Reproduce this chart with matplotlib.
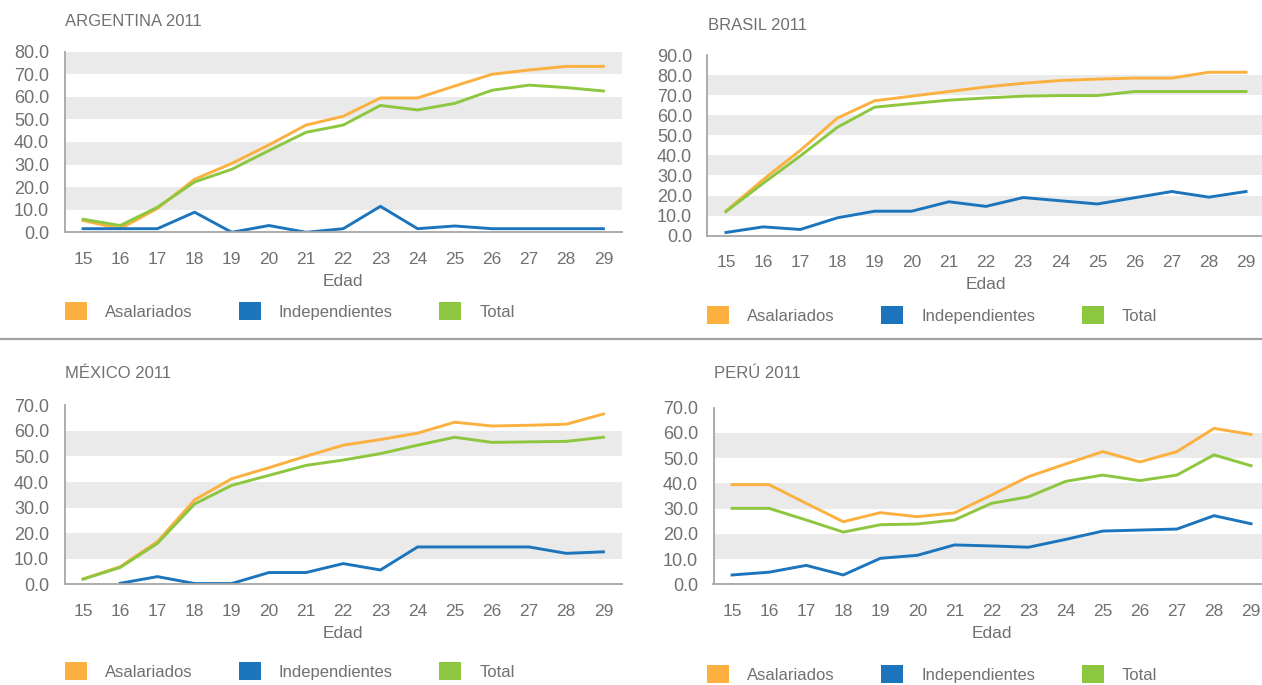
import matplotlib
matplotlib.use('Agg')
import matplotlib.pyplot as plt
import numpy as np
from matplotlib.lines import Line2D
from matplotlib.patches import Patch

plt.rcParams['font.family'] = ['Liberation Sans', 'DejaVu Sans']

edades = list(range(15, 30))
series = ['Asalariados', 'Independientes', 'Total']
colores = ['#FBB040', '#1C75BC', '#8DC63F']

# porcentajes por edad (15 a 29 años)
arg_asal = [5.2, 1.6, 10.6, 23.5, 30.5, 38.7, 47.5, 51.4, 59.5, 59.5, 64.8, 70.0, 71.9, 73.5, 73.5]
arg_indep = [1.6, 1.6, 1.6, 8.9, 0.0, 3.0, 0.0, 1.6, 11.5, 1.6, 2.8, 1.6, 1.6, 1.6, 1.6]
arg_total = [5.8, 3.0, 11.1, 22.3, 27.9, 36.2, 44.3, 47.5, 56.2, 54.2, 57.1, 62.9, 65.2, 64.1, 62.6]

bra_asal = [12.3, 27.9, 42.5, 58.6, 67.2, 69.5, 71.8, 74.1, 75.9, 77.3, 78.0, 78.5, 78.5, 81.4, 81.4]
bra_indep = [1.6, 4.4, 3.1, 8.9, 12.2, 12.2, 16.9, 14.6, 19.0, 17.4, 15.8, 18.9, 22.0, 19.2, 22.0]
bra_total = [12.0, 26.1, 39.7, 54.0, 64.0, 65.8, 67.5, 68.6, 69.5, 69.8, 69.8, 71.8, 71.8, 71.8, 71.8]

mex_asal = [2.1, 6.9, 16.7, 33.0, 41.3, 45.6, 50.1, 54.4, 56.6, 59.1, 63.4, 61.9, 62.2, 62.6, 66.6]
mex_indep = [np.nan, 0.4, 3.0, 0.3, 0.3, 4.6, 4.6, 8.1, 5.6, 14.6, 14.6, 14.6, 14.6, 12.1, 12.7]
mex_total = [2.0, 6.6, 16.0, 31.4, 38.7, 42.6, 46.5, 48.6, 51.1, 54.4, 57.5, 55.5, 55.7, 55.9, 57.5]

per_asal = [39.5, 39.5, 32.1, 24.8, 28.4, 26.8, 28.3, 35.4, 42.7, 47.7, 52.6, 48.5, 52.6, 61.8, 59.4]
per_indep = [3.7, 4.8, 7.5, 3.7, 10.3, 11.5, 15.6, 15.2, 14.7, 17.8, 21.1, 21.5, 21.9, 27.2, 24.0]
per_total = [30.1, 30.1, 25.5, 20.7, 23.6, 23.9, 25.5, 32.1, 34.7, 40.8, 43.3, 41.1, 43.3, 51.3, 47.0]

W, H = 1262, 685
gris_texto = '#707070'
gris_eje = '#A6A6A6'

fig = plt.figure(figsize=(W / 100, H / 100), dpi=100)


def panel(caja, titulo, datos, ymax, leyenda_x, leyenda_y, titulo_y):
    izq, der, arr, aba = caja
    ax = fig.add_axes([izq / W, 1 - aba / H, (der - izq) / W, (aba - arr) / H])
    for y0 in range(10, ymax, 20):
        ax.axhspan(y0, y0 + 10, color='#EAEAEA', lw=0, zorder=0)
    for valores, color, nombre in zip(datos, colores, series):
        ax.plot(edades, valores, color=color, lw=2.1, label=nombre, zorder=2)
    ax.set_xlim(14.5, 29.5)
    ax.set_ylim(0, ymax)
    ax.set_xticks(edades)
    ax.set_yticks(np.arange(0, ymax + 1, 10))
    ax.yaxis.set_major_formatter(matplotlib.ticker.FormatStrFormatter('%.1f'))
    ax.tick_params(axis='x', length=0, pad=14, labelsize=12.5, labelcolor=gris_texto)
    ax.tick_params(axis='y', length=0, pad=11, labelsize=13, labelcolor=gris_texto)
    for lado in ['top', 'right']:
        ax.spines[lado].set_visible(False)
    for lado in ['left', 'bottom']:
        ax.spines[lado].set_color(gris_eje)
        ax.spines[lado].set_linewidth(1.3)
    ax.set_xlabel('Edad', fontsize=12.5, color=gris_texto, labelpad=5)
    fig.text((izq + 0.5) / W, 1 - titulo_y / H, titulo, fontsize=12,
             color=gris_texto, va='center', ha='left')
    handles = [Patch(facecolor=c, edgecolor='none') for c in colores]
    fig.legend(handles, series, loc='center left', ncol=3, frameon=False,
               bbox_to_anchor=(leyenda_x / W, 1 - leyenda_y / H), borderpad=0,
               borderaxespad=0, fontsize=12, labelcolor=gris_texto,
               handlelength=1.32, handleheight=1.32, handletextpad=1.08,
               columnspacing=2.8)
    return ax


panel((64.5, 622, 51.7, 232.3), 'ARGENTINA 2011', [arg_asal, arg_indep, arg_total], 80, 64.5, 311, 21.5)
panel((707.4, 1264.6, 55, 235.7), 'BRASIL 2011', [bra_asal, bra_indep, bra_total], 90, 707, 315, 26)
panel((64.5, 622, 405.3, 584.3), 'MÉXICO 2011', [mex_asal, mex_indep, mex_total], 70, 64.5, 671, 373.5)
panel((713.5, 1269.6, 407.7, 584.3), 'PERÚ 2011', [per_asal, per_indep, per_total], 70, 707, 674, 373.5)

fig.add_artist(Line2D([0, 1], [1 - 339 / H] * 2, color='#A0A0A0', lw=1.6))

fig.savefig('out.png', dpi=100)
